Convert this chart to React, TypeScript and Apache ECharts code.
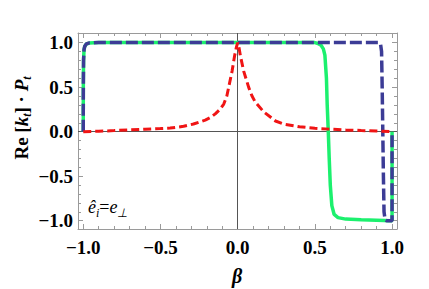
import React, { useEffect, useRef } from "react";
import * as echarts from "echarts";

// β samples and values for each curve
const betaGreen = [-1.0, -0.9995, -0.998, -0.995, -0.99, -0.98, -0.96, -0.9, 0.5, 0.52, 0.54, 0.555, 0.565, 0.575, 0.58, 0.587, 0.593, 0.6, 0.61, 0.625, 0.65, 0.7, 0.8, 0.9, 0.995, 1.0, 1.0];
const valGreen = [0.0, 0.5, 0.8, 0.92, 0.96, 0.985, 0.995, 1.0, 1.0, 0.99, 0.97, 0.93, 0.86, 0.6, 0.3, 0.0, -0.3, -0.6, -0.83, -0.93, -0.965, -0.982, -0.99, -0.995, -1.0, -1.0, 0.0];

const betaBlue = [-1.0, -0.9995, -0.998, -0.995, -0.99, -0.98, -0.96, -0.9, 0.915, 0.925, 0.932, 0.936, 0.94, 0.944, 0.948, 0.955, 0.965, 1.0, 1.0];
const valBlue = [0.0, 0.5, 0.8, 0.92, 0.96, 0.985, 0.997, 1.0, 1.0, 0.99, 0.9, 0.5, 0.0, -0.5, -0.9, -0.99, -1.0, -1.0, 0.0];

const betaRed = [-1.0, -0.9, -0.8, -0.7, -0.6, -0.5, -0.437, -0.35, -0.286, -0.21, -0.175, -0.145, -0.115, -0.09, -0.07, -0.058, -0.036, -0.02, -0.008, 0.0, 0.008, 0.018, 0.039, 0.071, 0.093, 0.115, 0.17, 0.245, 0.3, 0.4, 0.5, 0.6, 0.7, 0.8, 0.9, 1.0];
const valRed = [0.0, 0.005, 0.012, 0.02, 0.027, 0.035, 0.041, 0.06, 0.086, 0.13, 0.16, 0.2, 0.25, 0.31, 0.4, 0.5, 0.68, 0.85, 0.95, 1.0, 0.95, 0.85, 0.68, 0.5, 0.4, 0.33, 0.22, 0.12, 0.085, 0.055, 0.038, 0.028, 0.02, 0.013, 0.007, 0.0];

const majorTicks = [-1, -0.5, 0, 0.5, 1];
const minorTicks = [-1, -0.9, -0.8, -0.7, -0.6, -0.5, -0.4, -0.3, -0.2, -0.1, 0, 0.1, 0.2, 0.3, 0.4, 0.5, 0.6, 0.7, 0.8, 0.9, 1];

const X_MIN = -1.034;
const X_MAX = 1.032;
const Y_MIN = -1.093;
const Y_MAX = 1.108;

const SERIF = "Liberation Serif";
const FRAME = "#9a9a9a";

const fmt = (v: number) => (v < 0 ? "\u2212" + Math.abs(v).toFixed(1) : v.toFixed(1));
const zip = (xs: number[], ys: number[]) => xs.map((x, i) => [x, ys[i]]);

function makeAxis(kind: "x" | "y", position: string, ticks: number[], len: number, showLine: boolean, showLabel: boolean) {
  return {
    type: "value",
    position,
    min: kind === "x" ? X_MIN : Y_MIN,
    max: kind === "x" ? X_MAX : Y_MAX,
    axisLine: { show: showLine, onZero: false, lineStyle: { color: FRAME, width: 1 } },
    axisTick: { show: true, inside: true, length: len, customValues: ticks, lineStyle: { color: FRAME, width: 1 } },
    axisLabel: showLabel
      ? {
          show: true,
          customValues: majorTicks,
          formatter: (v: number) => fmt(v),
          fontFamily: SERIF,
          fontWeight: "bold",
          fontSize: 19,
          color: "#000",
          margin: kind === "x" ? 9 : 5,
        }
      : { show: false },
    splitLine: { show: false },
  };
}

export default function App() {
  const ref = useRef<HTMLDivElement>(null);
  useEffect(() => {
    if (!ref.current) return;
    const chart = echarts.init(ref.current, null, { renderer: "svg" });
    const option: any = {
      animation: false,
      backgroundColor: "#fff",
      textStyle: { fontFamily: SERIF },
      grid: { left: 78, right: 32, top: 33, bottom: 60 },
      xAxis: [
        makeAxis("x", "bottom", majorTicks, 5, true, true),
        makeAxis("x", "bottom", minorTicks, 3, false, false),
        makeAxis("x", "top", majorTicks, 5, true, false),
        makeAxis("x", "top", minorTicks, 3, false, false),
      ],
      yAxis: [
        makeAxis("y", "left", majorTicks, 5, true, true),
        makeAxis("y", "left", minorTicks, 3, false, false),
        makeAxis("y", "right", majorTicks, 5, true, false),
        makeAxis("y", "right", minorTicks, 3, false, false),
      ],
      series: [
        {
          type: "line",
          data: zip(betaGreen, valGreen),
          showSymbol: false,
          lineStyle: { color: "#1cf06e", width: 3.5 },
          markLine: {
            silent: true,
            symbol: "none",
            label: { show: false },
            lineStyle: { color: "#555", width: 1, type: "solid" },
            data: [{ xAxis: 0 }, { yAxis: 0 }],
            z: 1,
          },
          z: 2,
        },
        {
          type: "line",
          data: zip(betaBlue, valBlue),
          showSymbol: false,
          lineStyle: { color: "#3c3c96", width: 3.5, type: [12, 4] },
          z: 3,
        },
        {
          type: "line",
          data: zip(betaRed, valRed),
          showSymbol: false,
          lineStyle: { color: "#f01414", width: 3, type: [8, 4] },
          z: 4,
        },
      ],
      graphic: [
        {
          type: "text",
          x: 22,
          y: 118,
          rotation: Math.PI / 2,
          style: {
            text: "{r|Re [}{i|k}{s|t}{r|] \u00b7 }{i|P}{s|t}",
            align: "center",
            verticalAlign: "middle",
            fill: "#000",
            rich: {
              r: { fontFamily: SERIF, fontWeight: "bold", fontSize: 19, lineHeight: 20, verticalAlign: "top" },
              i: { fontFamily: SERIF, fontWeight: "bold", fontStyle: "italic", fontSize: 19, lineHeight: 20, verticalAlign: "top" },
              s: { fontFamily: SERIF, fontWeight: "bold", fontStyle: "italic", fontSize: 12, lineHeight: 14, verticalAlign: "top", padding: [9, 0, 0, 0] },
            },
          },
        },
        {
          type: "text",
          x: 237,
          y: 276,
          style: {
            text: "\u03b2",
            align: "center",
            verticalAlign: "middle",
            fontFamily: SERIF,
            fontWeight: "bold",
            fontStyle: "italic",
            fontSize: 20,
            fill: "#000",
          },
        },
        {
          type: "text",
          x: 88,
          y: 208,
          style: {
            text: "{e|\u00ea}{s|i}{n|=}{e|e}{s|\u22a5}",
            align: "left",
            verticalAlign: "middle",
            fill: "#000",
            rich: {
              e: { fontFamily: SERIF, fontStyle: "italic", fontSize: 18, lineHeight: 20, verticalAlign: "top" },
              n: { fontFamily: SERIF, fontSize: 18, lineHeight: 20, verticalAlign: "top" },
              s: { fontFamily: SERIF, fontStyle: "italic", fontSize: 12, lineHeight: 14, verticalAlign: "top", padding: [9, 0, 0, 0] },
            },
          },
        },
      ],
    };
    chart.setOption(option);
    return () => chart.dispose();
  }, []);
  return <div ref={ref} style={{ width: 429, height: 289, position: "absolute", left: 0, top: 0 }} />;
}
